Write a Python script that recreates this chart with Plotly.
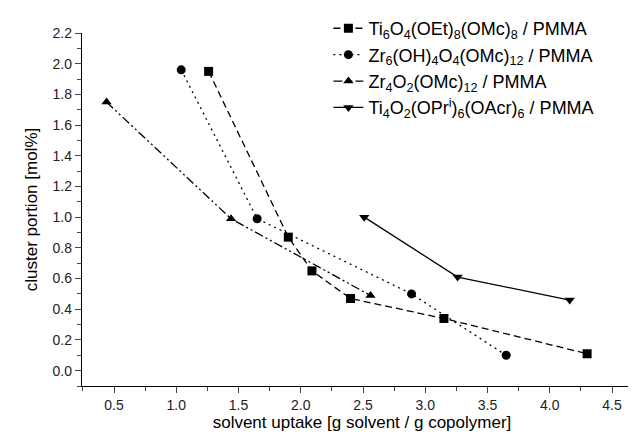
import plotly.graph_objects as go

# Data
ti6_x = [1.26, 1.90, 2.09, 2.40, 3.15, 4.30]
ti6_y = [1.95, 0.87, 0.65, 0.47, 0.34, 0.11]
zr6_x = [1.04, 1.65, 2.89, 3.65]
zr6_y = [1.96, 0.99, 0.50, 0.10]
zr4_x = [0.44, 1.44, 2.56]
zr4_y = [1.75, 0.99, 0.49]
ti4_x = [2.51, 3.26, 4.16]
ti4_y = [1.00, 0.61, 0.46]

names = [
    "Ti<sub>6</sub>O<sub>4</sub>(OEt)<sub>8</sub>(OMc)<sub>8</sub> / PMMA",
    "Zr<sub>6</sub>(OH)<sub>4</sub>O<sub>4</sub>(OMc)<sub>12</sub> / PMMA",
    "Zr<sub>4</sub>O<sub>2</sub>(OMc)<sub>12</sub> / PMMA",
    "Ti<sub>4</sub>O<sub>2</sub>(OPr<sup>i</sup>)<sub>6</sub>(OAcr)<sub>6</sub> / PMMA",
]

FONT = "Arial, Liberation Sans, sans-serif"

fig = go.Figure()
series = [
    (ti6_x, ti6_y, names[0], "7px,4px", "square"),
    (zr6_x, zr6_y, names[1], "2px,4px", "circle"),
    (zr4_x, zr4_y, names[2], "9px,3px,2px,3px,2px,3px", "triangle-up"),
    (ti4_x, ti4_y, names[3], "solid", "triangle-down"),
]
for x, y, n, dash, sym in series:
    fig.add_trace(go.Scatter(
        x=x, y=y, name=n, mode="lines+markers",
        line=dict(color="black", width=1.3, dash=dash),
        marker=dict(symbol=sym, size=9, color="black"),
    ))

fig.update_layout(
    width=636, height=435,
    margin=dict(l=74, r=2, t=25, b=57),
    paper_bgcolor="white", plot_bgcolor="white",
    font=dict(family=FONT, color="black", size=14),
    showlegend=True,
    legend=dict(
        x=0.44, y=1.065, xanchor="left", yanchor="top",
        font=dict(size=18, family=FONT, color="black"),
        bgcolor="rgba(0,0,0,0)", itemwidth=30, tracegroupgap=0,
    ),
    xaxis=dict(
        range=[0.243, 4.741], tickvals=[0.5, 1.0, 1.5, 2.0, 2.5, 3.0, 3.5, 4.0, 4.5],
        tickformat=".1f", ticks="outside", ticklen=6, tickwidth=1.2,
        minor=dict(ticks="outside", ticklen=4, dtick=0.25, tick0=0.25, tickwidth=1.2),
        showline=True, linecolor="black", linewidth=1.3, showgrid=False, zeroline=False,
        tickfont=dict(size=14, color="#222"),
        title=dict(text="solvent uptake [g solvent / g copolymer]", font=dict(size=17), standoff=3),
    ),
    yaxis=dict(
        range=[-0.1, 2.2], tickvals=[0.0, 0.2, 0.4, 0.6, 0.8, 1.0, 1.2, 1.4, 1.6, 1.8, 2.0, 2.2],
        tickformat=".1f", ticks="outside", ticklen=6, tickwidth=1.2,
        minor=dict(ticks="outside", ticklen=4, dtick=0.1, tick0=0.0, tickwidth=1.2),
        showline=True, linecolor="black", linewidth=1.3, showgrid=False, zeroline=False,
        tickfont=dict(size=14, color="#222"),
        title=dict(text="cluster portion [mol%]", font=dict(size=17), standoff=10),
    ),
)

fig.write_html("out.html")
